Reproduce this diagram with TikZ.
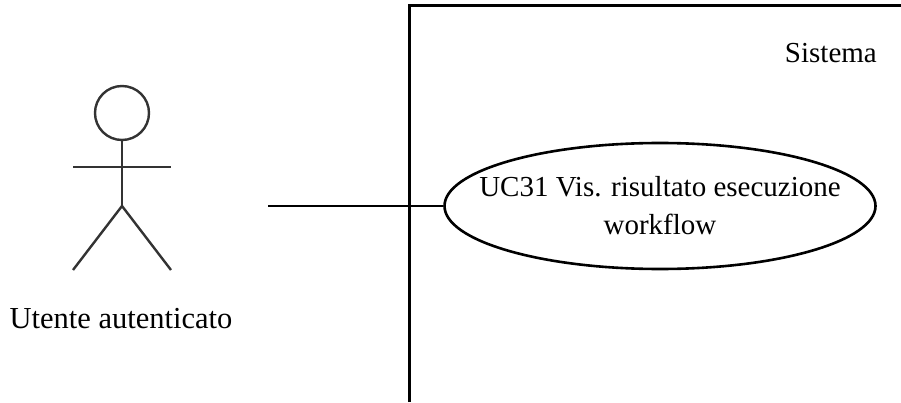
\documentclass[tikz,border=0pt]{standalone}
\usepackage{fontspec}
\setmainfont{Liberation Serif}
\usetikzlibrary{shapes.geometric}
\tikzset{
  usecase/.style={draw, ellipse, line width=2.6pt, minimum width=431pt, minimum height=126pt, inner xsep=-30pt, inner ysep=0pt, align=center},
  label/.style={inner sep=0pt, font=\fontsize{29}{38}\selectfont},
  actorline/.style={draw=black!80, line width=2.4pt},
  headcircle/.style={circle, actorline, minimum size=54pt, inner sep=0pt},
  frameline/.style={line width=3pt}
}
\begin{document}
\begin{tikzpicture}[x=1pt, y=1pt]
      \useasboundingbox (0,0) rectangle (901,402);
      %
      \coordinate (framebl) at (409,0);
      \coordinate (frametl) at (409,396);
      \coordinate (frametr) at (901,396);
      \draw[frameline] (framebl) -- (frametl) -- (frametr);
      %
      \node[label, anchor=east] (sistema) at (877,349) {Sistema};
      \node[label, usecase] (uc31) at (660,196) {UC31 Vis. risultato esecuzione\\workflow};
      %
      \node[headcircle] (head) at (122,289) {};
      \coordinate (hip) at (122,196);
      \coordinate (armleft) at (73,235);
      \coordinate (armright) at (171,235);
      \coordinate (footleft) at (73,132);
      \coordinate (footright) at (171,132);
      \draw[actorline] (head.south) -- (hip);
      \draw[actorline] (armleft) -- (armright);
      \draw[actorline] (footleft) -- (hip) -- (footright);
      %
      \node[label, font=\fontsize{30.5}{38}\selectfont] (utente) at (121,83) {Utente autenticato};
      %
      \coordinate (actorside) at (268,196);
      \draw[line width=2.6pt] (actorside) -- (uc31.west);
      %
    \end{tikzpicture}
\end{document}
